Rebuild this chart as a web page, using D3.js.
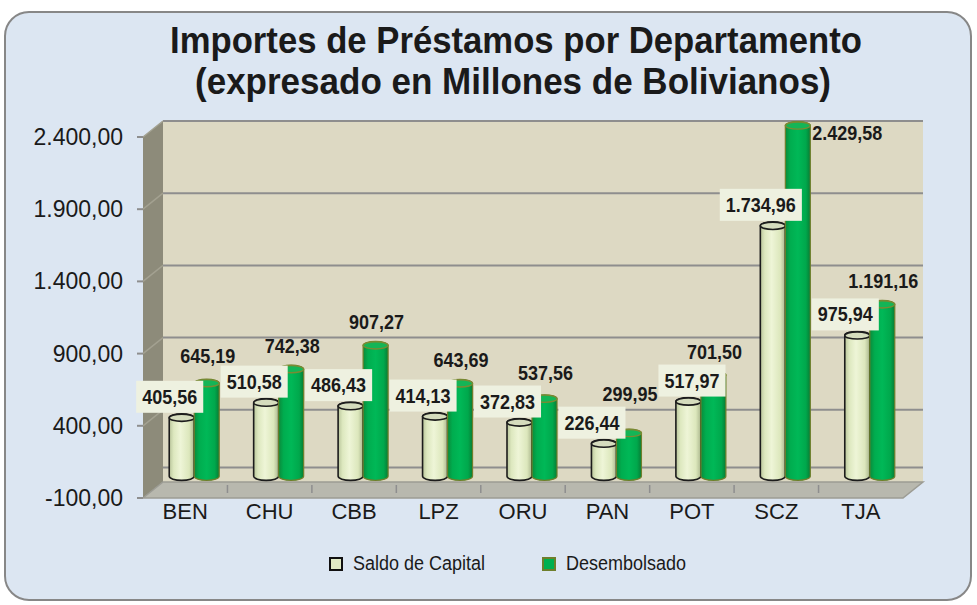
<!DOCTYPE html>
<html>
<head>
<meta charset="UTF-8">
<title>Importes de Préstamos por Departamento</title>
<script src="https://cdn.jsdelivr.net/npm/d3@7"></script>
<style>
  body { margin: 0; background: #ffffff; }
  text { font-family: "Liberation Sans", Arial, sans-serif; fill: #1a1a1a; }
</style>
</head>
<body>
<div id="chart"></div>
<script>
// data
var categories = ["BEN", "CHU", "CBB", "LPZ", "ORU", "PAN", "POT", "SCZ", "TJA"];
var saldoCapital = [405.56, 510.58, 486.43, 414.13, 372.83, 226.44, 517.97, 1734.96, 975.94];
var desembolsado = [645.19, 742.38, 907.27, 643.69, 537.56, 299.95, 701.50, 2429.58, 1191.16];
var seriesNames = ["Saldo de Capital", "Desembolsado"];
var yTicks = [-100, 400, 900, 1400, 1900, 2400];
var titleLines = ["Importes de Préstamos por Departamento", "(expresado en Millones de Bolivianos)"];

var W = 977, H = 605;
var DX = 20, DY = -16;          // depth of the 3d box
var BAR_DEPTH = 0.45;           // where the cylinders stand inside the box

var es = d3.formatLocale({decimal: ",", thousands: ".", grouping: [3], currency: ["", ""], minus: "-"});
var fmt = es.format(",.2f");

var svg = d3.select("#chart").append("svg")
  .attr("width", W)
  .attr("height", H);

var defs = svg.append("defs");

function hGrad(id, stops) {
  var g = defs.append("linearGradient").attr("id", id)
    .attr("x1", "0%").attr("x2", "100%").attr("y1", "0%").attr("y2", "0%");
  stops.forEach(function(s) {
    g.append("stop").attr("offset", s[0]).attr("stop-color", s[1]);
  });
}
hGrad("gLight", [["0%", "#b9c59b"], ["18%", "#dde8bf"], ["45%", "#eef5d7"], ["80%", "#dce7bc"], ["100%", "#aab68d"]]);
hGrad("gGreen", [["0%", "#0b8a3b"], ["20%", "#00ad4f"], ["50%", "#00b857"], ["82%", "#00a84c"], ["100%", "#087c35"]]);

// outer panel
svg.append("rect")
  .attr("x", 5).attr("y", 12)
  .attr("width", 966).attr("height", 588)
  .attr("rx", 24).attr("ry", 24)
  .attr("fill", "#dce6f2")
  .attr("stroke", "#878787")
  .attr("stroke-width", 2);

// the original font is tall and narrow, so stretch it a bit
function stretchedText(g, x, y, str, size, weight, anchor, width) {
  var t = g.append("g").attr("transform", "translate(" + x + "," + y + ") scale(1,1.1)")
    .append("text")
    .attr("text-anchor", anchor)
    .attr("font-size", size)
    .attr("font-weight", weight)
    .text(str);
  if (width) t.attr("textLength", width).attr("lengthAdjust", "spacingAndGlyphs");
  return t;
}
stretchedText(svg, 516, 53, titleLines[0], 33, "bold", "middle", 692);
stretchedText(svg, 513, 94, titleLines[1], 33, "bold", "middle", 636);

// scales
var y = d3.scaleLinear().domain([-100, 2400]).range([498, 137]);
var x = d3.scaleBand().domain(categories).range([143, 903]);
var sub = d3.scaleBand().domain(seriesNames).range([0, 50]);

var x0 = x.range()[0], x1 = x.range()[1];
var yTop = y(2400), yBot = y(-100);

var plot = svg.append("g");

// back wall
plot.append("polygon")
  .attr("points", [[x0 + DX, yTop + DY], [x1 + DX, yTop + DY], [x1 + DX, yBot + DY], [x0 + DX, yBot + DY]].join(" "))
  .attr("fill", "#ddd9c3");

// side wall
plot.append("polygon")
  .attr("points", [[x0, yTop], [x0 + DX, yTop + DY], [x0 + DX, yBot + DY], [x0, yBot]].join(" "))
  .attr("fill", "#8d8b7a");

// floor
plot.append("polygon")
  .attr("points", [[x0, yBot], [x0 + DX, yBot + DY], [x1 + DX, yBot + DY], [x1, yBot]].join(" "))
  .attr("fill", "#b8b8ae")
  .attr("stroke", "#9c9c94")
  .attr("stroke-width", 1.5);

// gridlines on back wall + side wall
yTicks.forEach(function(v) {
  if (v > -100) {
    plot.append("line")
      .attr("x1", x0 + DX).attr("x2", x1 + DX)
      .attr("y1", y(v) + DY).attr("y2", y(v) + DY)
      .attr("stroke", "#8e8e8e").attr("stroke-width", 2);
    plot.append("line")
      .attr("x1", x0).attr("x2", x0 + DX)
      .attr("y1", y(v)).attr("y2", y(v) + DY)
      .attr("stroke", "#a3a191").attr("stroke-width", 1.5);
  }
});
// zero line at the back
plot.append("line")
  .attr("x1", x0 + DX).attr("x2", x1 + DX)
  .attr("y1", y(0) + DY).attr("y2", y(0) + DY)
  .attr("stroke", "#8e8e8e").attr("stroke-width", 2);

// y axis ticks + labels
yTicks.forEach(function(v) {
  plot.append("line")
    .attr("x1", x0 - 6).attr("x2", x0)
    .attr("y1", y(v)).attr("y2", y(v))
    .attr("stroke", "#8e8e8e").attr("stroke-width", 2);
  plot.append("text")
    .attr("x", 123).attr("y", y(v) + 8)
    .attr("text-anchor", "end")
    .attr("font-size", 23)
    .text(fmt(v));
});

// category ticks on the floor and labels
categories.forEach(function(c, i) {
  if (i > 0) {
    plot.append("line")
      .attr("x1", x(c)).attr("x2", x(c))
      .attr("y1", yBot - 13).attr("y2", yBot - 5)
      .attr("stroke", "#8e8e8e").attr("stroke-width", 1.5);
  }
  plot.append("text")
    .attr("x", x(c) + x.bandwidth() / 2)
    .attr("y", 519)
    .attr("text-anchor", "middle")
    .attr("font-size", 22)
    .text(c);
});

// cylinders
var bars = [];
categories.forEach(function(c, i) {
  [saldoCapital[i], desembolsado[i]].forEach(function(v, s) {
    var name = seriesNames[s];
    var w = sub.bandwidth();
    var cx = x(c) + x.bandwidth() / 2 - 25 + sub(name) + w / 2 + DX * BAR_DEPTH;
    bars.push({cat: c, i: i, s: s, v: v, cx: cx, w: w,
      top: y(v) + DY * BAR_DEPTH, bot: y(0) + DY * BAR_DEPTH});
  });
});

var barG = plot.append("g");
bars.forEach(function(b) {
  var r = b.w / 2, ry = 4;
  var L = b.cx - r, R = b.cx + r;
  var body = "M" + L + "," + b.top + "L" + L + "," + b.bot +
    "A" + r + "," + ry + " 0 0 0 " + R + "," + b.bot +
    "L" + R + "," + b.top +
    "A" + r + "," + ry + " 0 0 0 " + L + "," + b.top + "Z";
  var light = b.s === 0;
  barG.append("path")
    .attr("d", body)
    .attr("fill", light ? "url(#gLight)" : "url(#gGreen)")
    .attr("stroke", light ? "#1c1c1c" : "#6e7f2c")
    .attr("stroke-width", light ? 1.6 : 1.2);
  barG.append("ellipse")
    .attr("cx", b.cx).attr("cy", b.top)
    .attr("rx", r).attr("ry", 3.6)
    .attr("fill", light ? "#d5dcbd" : "#14b556")
    .attr("stroke", light ? "#1c1c1c" : "#7b8a33")
    .attr("stroke-width", light ? 1.6 : 1.4);
});

// data labels: light ones in a box left of the bar, green ones bare.
// when a box hits the green label before it, either lift that label
// (small clash) or push the box to the right (big clash)
var labG = plot.append("g");
var prev = null;
categories.forEach(function(c, i) {
  var bl = bars[i * 2], bg = bars[i * 2 + 1];

  var edge = bl.top - 4;
  var g = labG.append("g");
  var rect = g.append("rect").attr("fill", "#eef1e0");
  var probe = g.append("text").attr("font-size", 18).attr("font-weight", "bold").text(fmt(bl.v));
  var tw = probe.node().getComputedTextLength();
  probe.remove();
  var left = bl.cx - 12 - tw / 2 - 6;
  var bTop = edge - 33;
  if (prev && prev.b > bTop && prev.t < edge && prev.r > left) {
    if (prev.b - bTop <= 8) {
      var nb = bTop - 3;
      prev.node.attr("transform", "translate(" + prev.x + "," + nb + ") scale(1,1.1)");
    } else {
      left = prev.r + 1;
    }
  }
  rect.attr("x", left).attr("y", bTop).attr("width", tw + 12).attr("height", 32);
  stretchedText(g, left + tw / 2 + 6, edge - 10, fmt(bl.v), 18, "bold", "middle");

  var gEdge = bg.top - 4;
  var t, base, lx, w1;
  if (gEdge - 30 < yTop + DY) {
    base = bg.top + 14;
    lx = bg.cx + bg.w / 2 + 2;
    t = stretchedText(labG, lx, base, fmt(bg.v), 18, "bold", "start");
    w1 = t.node().getComputedTextLength();
    prev = {x: lx, l: lx, r: lx + w1, t: base - 15, b: base + 3, node: d3.select(t.node().parentNode)};
  } else {
    base = Math.min(gEdge - 12, bTop - 6);
    lx = bg.cx + 1;
    t = stretchedText(labG, lx, base, fmt(bg.v), 18, "bold", "middle");
    w1 = t.node().getComputedTextLength();
    prev = {x: lx, l: lx - w1 / 2, r: lx + w1 / 2, t: base - 15, b: base + 3, node: d3.select(t.node().parentNode)};
  }
});

// legend
var leg = svg.append("g");
var legX = [330, 543];
seriesNames.forEach(function(n, i) {
  leg.append("rect")
    .attr("x", legX[i]).attr("y", 558)
    .attr("width", 12).attr("height", 12)
    .attr("fill", i === 0 ? "#e2ebc6" : "#00b050")
    .attr("stroke", i === 0 ? "#111" : "#6e7f2c")
    .attr("stroke-width", 2);
  stretchedText(leg, legX[i] + 23, 570, n, 18, "normal", "start");
});
</script>
</body>
</html>
